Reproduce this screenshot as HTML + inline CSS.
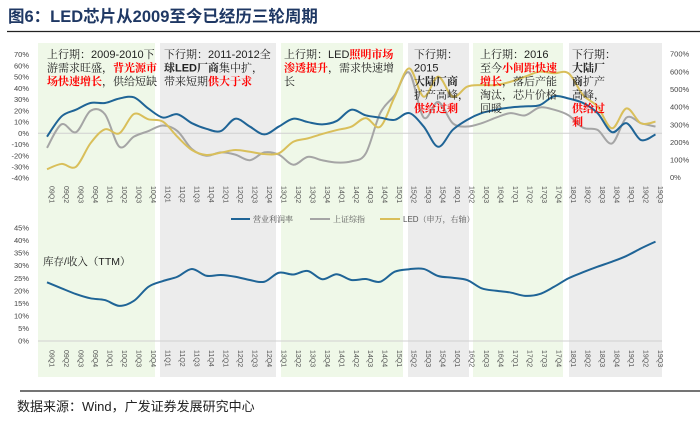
<!DOCTYPE html>
<html><head><meta charset="utf-8">
<style>
body{margin:0;background:#fff;}
svg{display:block;font-family:"Liberation Sans","Noto Sans CJK SC",sans-serif;}
</style></head>
<body>
<svg id="c" width="700" height="424" viewBox="0 0 700 424">
<text x="8" y="22" font-size="16.5" font-weight="bold" fill="#1f3864">图6：LED芯片从2009至今已经历三轮周期</text>
<line x1="7" y1="31.5" x2="700" y2="31.5" stroke="#222" stroke-width="1.2"/>
<g id="bands"></g>
<g id="grid"></g>
<g id="series"></g>
<g id="ann" font-size="11" fill="#222" font-family="'Liberation Sans','Noto Serif CJK SC',serif">
 <text x="47" y="58"><tspan>上行期：2009-2010下</tspan><tspan x="47" dy="13.5">游需求旺盛，<tspan fill="#f00" font-weight="bold">背光源市</tspan></tspan><tspan x="47" dy="13.5"><tspan fill="#f00" font-weight="bold">场快速增长</tspan>，供给短缺</tspan></text>
 <text x="164" y="58"><tspan>下行期：2011-2012全</tspan><tspan x="164" dy="13.5"><tspan font-weight="bold">球LED厂商</tspan>集中扩，</tspan><tspan x="164" dy="13.5">带来短期<tspan fill="#f00" font-weight="bold">供大于求</tspan></tspan></text>
 <text x="284" y="58"><tspan>上行期：LED<tspan fill="#f00" font-weight="bold">照明市场</tspan></tspan><tspan x="284" dy="13.5"><tspan fill="#f00" font-weight="bold">渗透提升</tspan>，需求快速增</tspan><tspan x="284" dy="13.5">长</tspan></text>
 <text x="414" y="58"><tspan>下行期：</tspan><tspan x="414" dy="13.5">2015</tspan><tspan x="414" dy="13.5" font-weight="bold">大陆厂商</tspan><tspan x="414" dy="13.5">扩产高峰，</tspan><tspan x="414" dy="13.5" fill="#f00" font-weight="bold">供给过剩</tspan></text>
 <text x="480" y="58"><tspan>上行期：2016</tspan><tspan x="480" dy="13.5">至今<tspan fill="#f00" font-weight="bold">小间距快速</tspan></tspan><tspan x="480" dy="13.5"><tspan fill="#f00" font-weight="bold">增长</tspan>，落后产能</tspan><tspan x="480" dy="13.5">淘汰，芯片价格</tspan><tspan x="480" dy="13.5">回暖</tspan></text>
 <text x="572" y="58"><tspan>下行期：</tspan><tspan x="572" dy="13.5" font-weight="bold">大陆厂</tspan><tspan x="572" dy="13.5"><tspan font-weight="bold">商</tspan>扩产</tspan><tspan x="572" dy="13.5">高峰，</tspan><tspan x="572" dy="13.5" fill="#f00" font-weight="bold">供给过</tspan><tspan x="572" dy="13.5" fill="#f00" font-weight="bold">剩</tspan></text>
 <text x="43" y="265" font-size="10.5">库存/收入（TTM）</text>
</g>
<g id="legend" font-size="8" fill="#555" font-family="'Liberation Sans','Noto Serif CJK SC',serif">
 <line x1="231" y1="219" x2="250" y2="219" stroke="#1f6496" stroke-width="2"/>
 <text x="253" y="222">营业利润率</text>
 <line x1="310" y1="219" x2="330" y2="219" stroke="#a5a5a5" stroke-width="2"/>
 <text x="333" y="222">上证综指</text>
 <line x1="380" y1="219" x2="400" y2="219" stroke="#d9bf5a" stroke-width="2"/>
 <text x="403" y="222">LED（申万，右轴）</text>
</g>
<line x1="20" y1="391" x2="700" y2="391" stroke="#222" stroke-width="1.2"/>
<text x="17" y="411" font-size="13" fill="#222">数据来源：Wind，广发证券发展研究中心</text>
</svg>
<script>
const quarters=["09Q1","09Q2","09Q3","09Q4","10Q1","10Q2","10Q3","10Q4","11Q1","11Q2","11Q3","11Q4","12Q1","12Q2","12Q3","12Q4","13Q1","13Q2","13Q3","13Q4","14Q1","14Q2","14Q3","14Q4","15Q1","15Q2","15Q3","15Q4","16Q1","16Q2","16Q3","16Q4","17Q1","17Q2","17Q3","17Q4","18Q1","18Q2","18Q3","18Q4","19Q1","19Q2","19Q3"];
const profitMargin=[-3,15,21,27,27,31,32,22,14,17,9,4,2,13,6,-1,6,13,10,8,11,21,16,14,12,18,6,-12,3,12,18,21,23,24,25,33,31,27,18,1,9,-6,-1];
const shIndex=[-13,8,1,20,17,-12,-3,2,7,2,-14,-20,-17,-19,-24,-17,-19,-28,-21,-24,-26,-25,-18,18,34,54,14,28,9,6,9,14,18,16,23,21,16,5,3,-9,14,9,6];
const ledIndex=[48,78,62,195,274,252,361,331,318,232,157,129,142,157,147,134,138,204,223,248,270,289,338,289,459,620,459,573,459,516,525,525,544,573,601,592,592,469,403,280,393,308,318];
const inventory=[23.4,21,18.7,17,16.3,14,16,21.6,23.9,25.6,28.7,26,26.3,25.6,24.3,23.6,27.2,26.5,27.9,24.6,26.6,24.3,24.7,23.6,27.6,28.6,28.7,25.9,25.2,24.3,21,20,19.3,18,18.7,21.6,25,27.4,29.6,31.6,33.9,36.9,39.6];
const leftTicks=[70,60,50,40,30,20,10,0,-10,-20,-30,-40];
const rightTicks=[700,600,500,400,300,200,100,0];
const invTicks=[45,40,35,30,25,20,15,10,5,0];
const bandKinds=["up","down","up","down","up","down"];
const bandLeft=[38,160,281,408,473,569];
const bandRight=[155,276,403,469,563,662];

const NS="http://www.w3.org/2000/svg";
const X0=47,X1=655.5;
const xS=i=>X0+(X1-X0)*i/(quarters.length-1);
const yL=v=>133.3-v*1.123;
const yR=v=>177.7-v*0.1764;
const yB=v=>341-v*2.51;
function mk(tag,attrs,parent){const e=document.createElementNS(NS,tag);for(const k in attrs)e.setAttribute(k,attrs[k]);parent.appendChild(e);return e;}
const bands=document.getElementById('bands'),grid=document.getElementById('grid'),ser=document.getElementById('series');
bandKinds.forEach((kind,k)=>{
  const r=mk('rect',{x:bandLeft[k],y:43,width:bandRight[k]-bandLeft[k],height:334,fill:kind==="up"?"#eff8e8":"#ececec"},bands);
  
  
});
leftTicks.forEach(v=>{const t=mk('text',{x:29,y:yL(v)+2.5,'font-size':7.5,'text-anchor':'end',fill:'#444'},grid);t.textContent=v+'%';
 
 });
rightTicks.forEach(v=>{const t=mk('text',{x:670,y:yR(v)+2.5,'font-size':7.5,fill:'#444'},grid);t.textContent=v+'%';
 
 });
invTicks.forEach(v=>{const t=mk('text',{x:29,y:yB(v)+2.5,'font-size':7.5,'text-anchor':'end',fill:'#444'},grid);t.textContent=v+'%';
 
 });
let z=mk('line',{x1:38,x2:662,y1:yL(0),y2:yL(0),stroke:'#d0d0d0','stroke-width':1},grid);


z=mk('line',{x1:38,x2:662,y1:yB(0),y2:yB(0),stroke:'#d0d0d0','stroke-width':1},grid);


quarters.forEach((q,i)=>{
  [186,350].forEach(y0=>{
    const t=mk('text',{'font-size':7,fill:'#555',transform:`translate(${xS(i)+2.5},${y0}) rotate(90)`},grid);t.textContent=q;
    
    
  });
});
function smooth(pts){let d=`M${pts[0][0]},${pts[0][1]}`;for(let i=0;i<pts.length-1;i++){const p0=pts[i-1]||pts[i],p1=pts[i],p2=pts[i+1],p3=pts[i+2]||p2;
 d+=` C${p1[0]+(p2[0]-p0[0])/6},${p1[1]+(p2[1]-p0[1])/6} ${p2[0]-(p3[0]-p1[0])/6},${p2[1]-(p3[1]-p1[1])/6} ${p2[0]},${p2[1]}`;}return d;}
function line(vals,yf,color,name){const p=mk('path',{d:smooth(vals.map((v,i)=>[xS(i),yf(v)])),fill:'none',stroke:color,'stroke-width':2},ser);
 
 }
line(shIndex,yL,'#a5a5a5','line-shanghai-index');
line(ledIndex,yR,'#d9bf5a','line-led-index');
line(profitMargin,yL,'#1f6496','line-operating-margin');
line(inventory,yB,'#1f6496','line-inventory-ratio');
</script>
</body></html>
